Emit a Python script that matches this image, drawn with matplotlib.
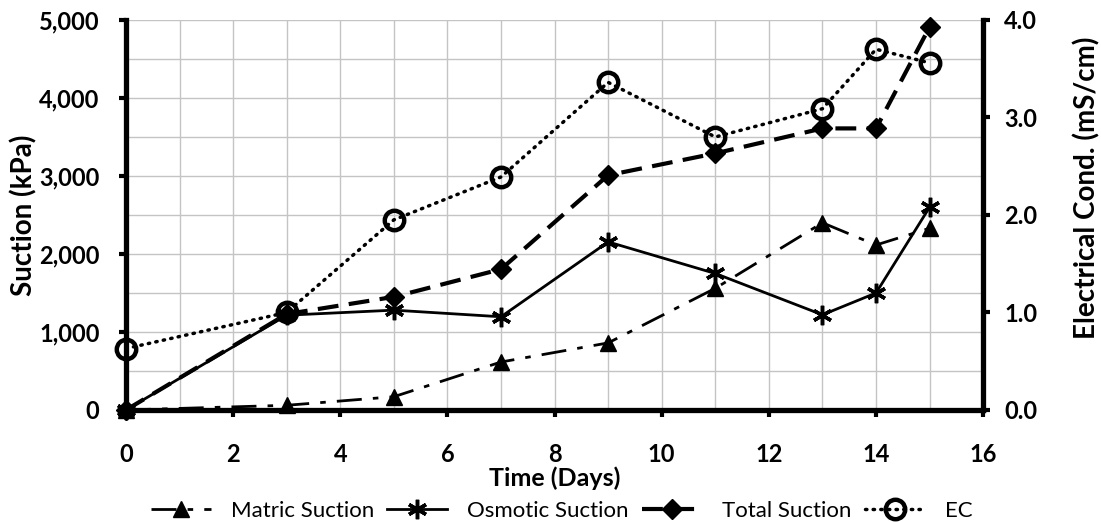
import matplotlib
matplotlib.use('Agg')
import matplotlib.pyplot as plt
from matplotlib.ticker import MultipleLocator, FuncFormatter

# Data
days = [0, 3, 5, 7, 9, 11, 13, 14, 15]
matric = [0, 60, 170, 615, 860, 1560, 2400, 2115, 2330]
osmotic = [0, 1215, 1280, 1195, 2155, 1750, 1220, 1500, 2600]
total = [0, 1230, 1450, 1805, 3010, 3290, 3610, 3610, 4910]
ec = [0.63, 1.0, 1.95, 2.39, 3.36, 2.80, 3.09, 3.70, 3.56]

plt.rcParams['font.family'] = ['Lato', 'DejaVu Sans']

fig = plt.figure(figsize=(11.01, 5.22), dpi=100)
ax = fig.add_axes([0.1144, 0.2146, 0.893 - 0.1144, 0.9617 - 0.2146])
ax2 = ax.twinx()

# Left axis series
ax.plot(days, matric, color='black', lw=2, dashes=(9, 4, 2, 4), marker='^',
        ms=11, label='Matric Suction', clip_on=False, zorder=3)
ax.plot(days, osmotic, color='black', lw=2, marker=(6, 2, 0), ms=14, mew=2.5,
        label='Osmotic Suction', clip_on=False, zorder=3)
ax.plot(days, total, color='black', lw=3, dashes=(5, 2.5), marker='D',
        ms=10, label='Total Suction', clip_on=False, zorder=3)

# Right axis series
ax2.plot(days, ec, color='black', lw=2.5, linestyle=(0, (0.4, 1.8)),
         dash_capstyle='round', marker='o', ms=14, mew=3.2, mfc='none',
         label='EC', clip_on=False, zorder=3)

ax.set_xlim(0, 16)
ax.set_ylim(0, 5000)
ax2.set_ylim(0, 4)

ax.xaxis.set_major_locator(MultipleLocator(2))
ax.xaxis.set_minor_locator(MultipleLocator(1))
ax.yaxis.set_major_locator(MultipleLocator(1000))
ax.yaxis.set_minor_locator(MultipleLocator(500))
ax2.yaxis.set_major_locator(MultipleLocator(1))
ax.yaxis.set_major_formatter(FuncFormatter(lambda v, p: f'{int(v):,}'))
ax2.yaxis.set_major_formatter(FuncFormatter(lambda v, p: f'{v:.1f}'))

ax.grid(True, which='both', color='#c4c4c4', lw=1)
ax.set_axisbelow(True)

for a in (ax, ax2):
    a.spines['top'].set_visible(False)
    for s in ('left', 'bottom', 'right'):
        a.spines[s].set_linewidth(3.8)
    a.tick_params(which='major', direction='out', length=5, width=3,
                  labelsize=17)
    a.tick_params(which='minor', length=0)
ax.spines['right'].set_visible(False)
ax2.spines['left'].set_visible(False)
ax2.spines['bottom'].set_visible(False)
ax.tick_params(axis='x', pad=19)
ax.tick_params(axis='y', pad=14)
ax2.tick_params(axis='y', pad=10)

for lbl in ax.get_xticklabels() + ax.get_yticklabels() + ax2.get_yticklabels():
    lbl.set_fontweight('bold')

ax.set_xlabel('Time (Days)', fontsize=18, fontweight='bold')
ax.set_ylabel('Suction (kPa)', fontsize=20, fontweight='bold')
ax2.set_ylabel('Electrical Cond. (mS/cm)', fontsize=20, fontweight='bold')
ax.xaxis.set_label_coords(0.5, -0.144)
ax.yaxis.set_label_coords(-0.103, 0.5)
ax2.yaxis.set_label_coords(1.105, 0.57)

h1, l1 = ax.get_legend_handles_labels()
h2, l2 = ax2.get_legend_handles_labels()
fig.legend(h1 + h2, l1 + l2, loc='center', ncol=4, frameon=False,
           fontsize=16, bbox_to_anchor=(0.51, 1 - 511 / 522), handlelength=2.7,
           columnspacing=0.6, handletextpad=0.9, borderpad=0)

fig.savefig('out.png', dpi=100)
